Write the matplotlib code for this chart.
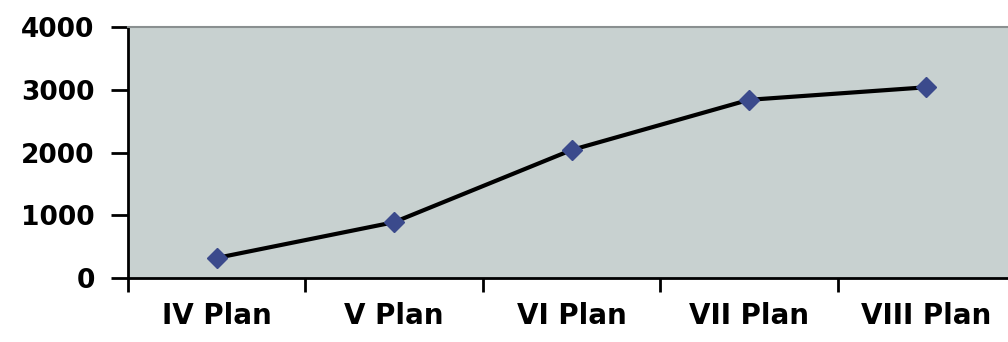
import matplotlib.pyplot as plt

plans = ["IV Plan", "V Plan", "VI Plan", "VII Plan", "VIII Plan"]
values = [320, 890, 2040, 2840, 3040]
y_ticks = [0, 1000, 2000, 3000, 4000]

plt.rcParams["font.family"] = ["DejaVu Sans"]

fig = plt.figure(figsize=(10.08, 3.42), dpi=100)
ax = fig.add_axes([0.127, 0.187, 0.88, 0.734])
ax.set_facecolor("#c8d1d0")

x = list(range(len(plans)))
ax.plot(x, values, color="black", linewidth=3, zorder=2)
ax.plot(x, values, linestyle="none", marker="D", markersize=10,
        markerfacecolor="#3b4a8c", markeredgecolor="#3b4a8c", zorder=3)

ax.set_xlim(-0.5, 4.5)
ax.set_ylim(0, 4000)
ax.set_yticks(y_ticks)
ax.set_yticklabels([str(v) for v in y_ticks], fontsize=19, fontweight="bold")
ax.set_xticks([i - 0.5 for i in range(len(plans) + 1)])
ax.set_xticklabels([])
ax.set_xticks(x, minor=True)
ax.set_xticklabels(plans, minor=True, fontsize=20, fontweight="bold")
ax.tick_params(axis="x", which="minor", length=0, pad=17)
ax.tick_params(axis="x", which="major", length=10, width=2, direction="out")
ax.tick_params(axis="y", length=12, width=2, direction="out", pad=12)

ax.spines["left"].set_linewidth(2)
ax.spines["bottom"].set_linewidth(2)
ax.spines["top"].set_color("#8a9090")
ax.spines["top"].set_linewidth(1.5)
ax.spines["right"].set_visible(False)

fig.savefig("out.png", dpi=100)
